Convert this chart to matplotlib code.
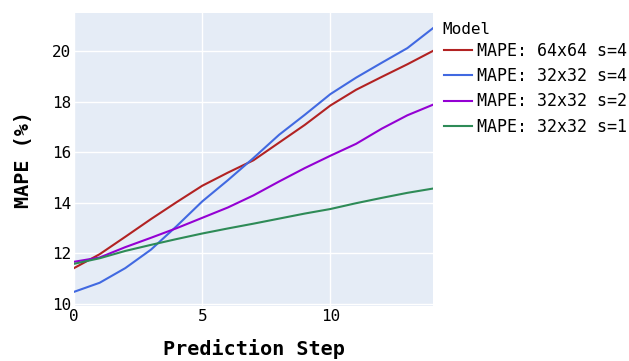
import matplotlib
matplotlib.use("Agg")
import matplotlib.pyplot as plt

steps = list(range(15))
mape_64_s4 = [11.42, 11.97, 12.66, 13.36, 14.03, 14.68, 15.20, 15.69, 16.39, 17.09, 17.86, 18.48, 18.99, 19.49, 20.02]
mape_32_s4 = [10.48, 10.84, 11.42, 12.15, 13.08, 14.06, 14.90, 15.78, 16.70, 17.49, 18.31, 18.96, 19.55, 20.13, 20.92]
mape_32_s2 = [11.67, 11.84, 12.25, 12.62, 13.00, 13.41, 13.82, 14.30, 14.85, 15.38, 15.87, 16.34, 16.94, 17.47, 17.89]
mape_32_s1 = [11.59, 11.81, 12.10, 12.34, 12.57, 12.79, 12.99, 13.18, 13.38, 13.58, 13.76, 13.99, 14.20, 14.40, 14.57]
labels = ["MAPE: 64x64 s=4", "MAPE: 32x32 s=4", "MAPE: 32x32 s=2", "MAPE: 32x32 s=1"]
colors = ["#B22222", "#4169E1", "#9400D3", "#2E8B57"]
series = [mape_64_s4, mape_32_s4, mape_32_s2, mape_32_s1]
xticks = [0, 5, 10]
yticks = [10, 12, 14, 16, 18, 20]

plt.rcParams['font.family'] = ['DejaVu Sans Mono']

fig = plt.figure(figsize=(6.29, 3.61), dpi=100)
ax = fig.add_axes([74/629, 1-306/361, (433-74)/629, (306-13)/361])
ax.set_facecolor("#E5ECF6")
for s in ax.spines.values():
    s.set_visible(False)
ax.grid(True, color="white", linewidth=1.0)
ax.set_axisbelow(True)

for vals, lab, c in zip(series, labels, colors):
    ax.plot(steps, vals, color=c, linewidth=1.5, label=lab, solid_joinstyle='round')

ax.set_xlim(0, 14)
ax.set_ylim(9.92, 21.52)
ax.set_xticks(xticks)
ax.set_yticks(yticks)
ax.tick_params(axis='both', length=0, labelsize=11.5, pad=2)
ax.set_xlabel("Prediction Step", fontsize=14.5, fontweight='bold', labelpad=11)
ax.set_ylabel("MAPE (%)", fontsize=14.5, fontweight='bold', labelpad=14)

fig.text(442/629, 1-30/361, "Model", fontsize=11.5, ha='left', va='center')
leg = ax.legend(loc='upper left', bbox_to_anchor=(444/629, 1-42/361), bbox_transform=fig.transFigure,
                frameon=False, fontsize=12,
                handlelength=1.7, handletextpad=0.25, labelspacing=0.43, borderaxespad=0,
                borderpad=0)

fig.savefig("out.png", dpi=100)
